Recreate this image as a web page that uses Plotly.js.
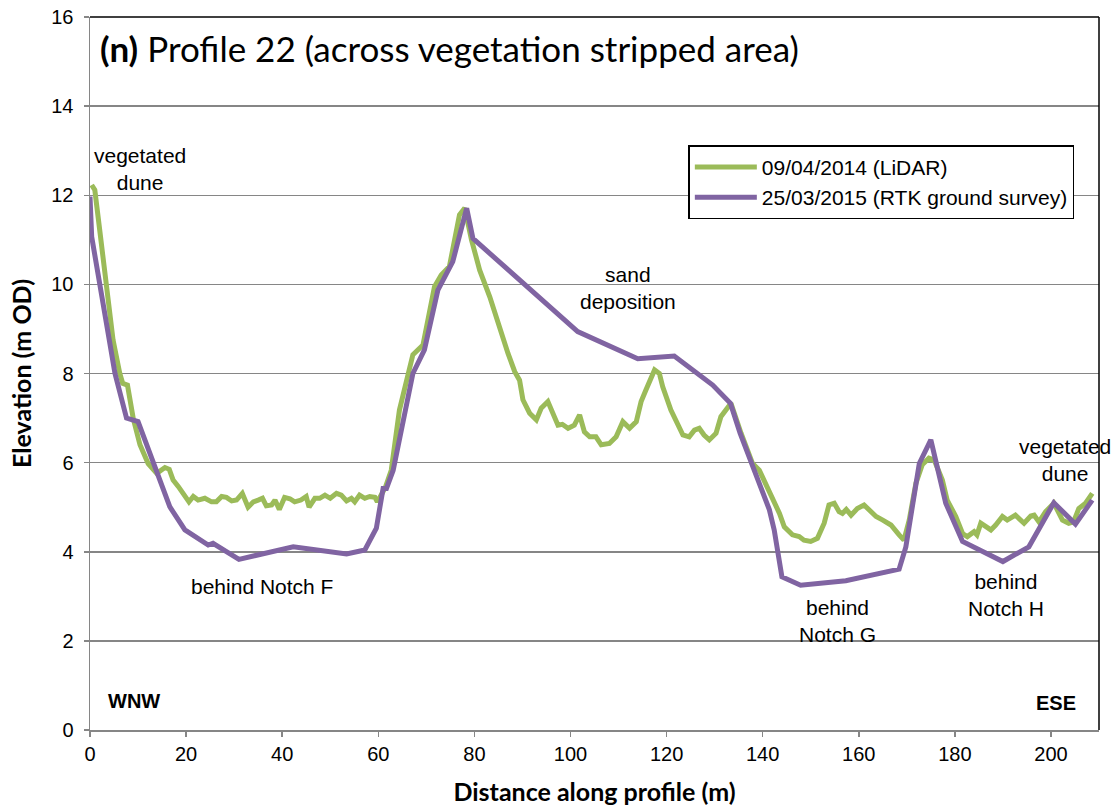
<!DOCTYPE html>
<html><head><meta charset="utf-8">
<script src="https://cdn.plot.ly/plotly-3.0.1.min.js"></script>
<style>body{margin:0;background:#fff}#chart{width:1117px;height:808px}</style>
</head><body><div id="chart"></div>
<script>
// LiDAR 09/04/2014
var lidarX = [0.35,1.0,2.1,3.5,4.8,6.2,6.8,7.8,9.0,10.4,12.1,13.9,15.6,16.5,17.3,18.4,19.4,20.6,21.5,22.5,23.9,25.3,26.3,27.4,28.4,29.5,30.5,31.7,32.9,34.0,35.0,35.9,36.7,37.8,38.5,39.4,40.5,41.6,42.6,43.9,45.0,45.6,46.8,47.8,48.9,50.0,51.3,52.3,53.4,54.4,55.1,56.1,57.2,58.2,59.3,59.8,61.5,62.7,64.4,65.5,67.2,69.3,71.7,73.1,74.8,76.9,78.0,79.4,81.1,83.2,84.9,85.3,87.0,88.4,89.4,90.1,91.5,92.9,93.9,95.3,96.3,97.4,98.3,99.5,100.8,101.9,102.9,104.0,105.3,106.4,108.1,109.5,110.9,112.3,113.7,114.7,115.7,117.5,118.5,119.2,120.9,122.3,123.4,124.7,125.8,126.8,127.8,128.9,130.3,131.3,132.7,133.4,135.5,137.9,139.3,140.7,142.4,143.5,144.5,146.2,147.6,148.6,150.0,151.4,152.8,153.8,154.9,155.9,156.6,157.4,158.4,159.7,161.1,162.2,163.6,165.0,166.7,168.4,169.4,170.5,171.9,173.2,174.6,175.7,177.4,178.4,180.2,181.6,182.6,184.0,184.6,185.4,186.4,187.5,188.5,189.9,190.9,192.6,194.4,195.8,196.5,197.5,198.9,200.6,202.4,203.7,204.7,205.8,207.2,208.6];
var lidarY = [12.23,12.12,11.15,9.95,8.75,8.0,7.78,7.74,6.99,6.40,5.98,5.76,5.89,5.85,5.61,5.46,5.31,5.12,5.24,5.16,5.20,5.12,5.12,5.24,5.22,5.14,5.16,5.31,5.00,5.12,5.16,5.20,5.03,5.05,5.16,4.95,5.22,5.19,5.12,5.16,5.24,5.00,5.20,5.20,5.27,5.20,5.31,5.27,5.14,5.20,5.12,5.27,5.20,5.24,5.22,5.12,5.45,5.83,7.18,7.63,8.42,8.64,9.95,10.21,10.40,11.56,11.71,11.0,10.32,9.72,9.13,9.0,8.45,8.04,7.85,7.41,7.11,6.96,7.22,7.37,7.11,6.84,6.86,6.77,6.84,7.07,6.69,6.58,6.58,6.40,6.43,6.58,6.92,6.77,6.92,7.37,7.63,8.08,8.0,7.70,7.18,6.88,6.62,6.58,6.73,6.77,6.62,6.51,6.66,7.03,7.26,7.33,6.66,5.98,5.83,5.50,5.16,4.86,4.56,4.38,4.34,4.26,4.23,4.30,4.64,5.05,5.09,4.90,4.86,4.95,4.82,4.97,5.05,4.94,4.79,4.71,4.60,4.38,4.26,4.71,5.54,5.95,6.10,6.06,5.61,5.16,4.79,4.41,4.34,4.45,4.38,4.64,4.56,4.49,4.60,4.79,4.71,4.82,4.64,4.80,4.82,4.67,4.90,5.09,4.71,4.64,4.67,4.97,5.09,5.31];
// RTK 25/03/2015
var rtkX = [0,0.35,5.2,7.6,10.0,11.8,16.6,19.75,24.6,25.6,31.0,42.3,53.4,57.2,59.6,61.0,61.7,63.1,67.2,69.6,72.4,75.5,78.4,79.7,101.5,114.0,121.6,129.6,133.3,135.3,141.4,142.4,144.0,147.9,157.3,168.4,169.8,172.6,175.0,178.1,181.6,190.0,195.4,200.6,205.1,208.6];
var rtkY = [11.97,11.07,8.0,7.0,6.92,6.4,5.01,4.49,4.15,4.19,3.83,4.11,3.95,4.04,4.53,5.42,5.42,5.83,8.0,8.53,9.87,10.51,11.71,11.03,8.94,8.33,8.39,7.74,7.33,6.66,4.94,4.49,3.44,3.25,3.35,3.61,4.11,5.98,6.51,5.09,4.23,3.78,4.11,5.10,4.62,5.16];
var seriesNames = ['09/04/2014 (LiDAR)', '25/03/2015 (RTK ground survey)'];
var xTicks = [0,20,40,60,80,100,120,140,160,180,200];
var yTicks = [0,2,4,6,8,10,12,14,16];

var tickFont = {family:'Liberation Sans, Arial, sans-serif', size:20, color:'#000'};
var annFont = {family:'Liberation Sans, Arial, sans-serif', size:21, color:'#000'};
var titleFont = {family:'Lato, Open Sans, sans-serif', size:25, color:'#000'};

var data = [
  {x:lidarX, y:lidarY, mode:'lines', name:seriesNames[0], line:{color:'#9BBB59', width:5}},
  {x:rtkX, y:rtkY, mode:'lines', name:seriesNames[1], line:{color:'#8064A2', width:5}}
];

function ann(x, y, text, extra){
  var a = {x:x, y:y, xref:'x', yref:'y', text:text, showarrow:false, font:annFont, align:'center'};
  for (var k in extra) a[k]=extra[k];
  return a;
}

var layout = {
  width:1117, height:808,
  margin:{l:90, r:18, t:17, b:78},
  paper_bgcolor:'#fff', plot_bgcolor:'#fff',
  showlegend:true,
  legend:{x:0.593, y:0.82, xanchor:'left', yanchor:'top', bgcolor:'#fff', bordercolor:'#000', borderwidth:1.5,
          font:{family:'Liberation Sans, Arial, sans-serif', size:21, color:'#000'}, itemwidth:62, tracegroupgap:0},
  xaxis:{range:[0,210], tickvals:xTicks, ticks:'outside', ticklen:5, tickcolor:'#868686', tickwidth:1.5,
         showline:true, linecolor:'#868686', linewidth:1.5, showgrid:false, zeroline:false,
         tickfont:tickFont, title:{text:'<b>Distance along profile (m)</b>', font:titleFont, standoff:20}},
  yaxis:{range:[0,16], tickvals:yTicks, ticks:'outside', ticklen:5, tickcolor:'#868686', tickwidth:1.5,
         showline:true, linecolor:'#868686', linewidth:1.5, showgrid:true, gridcolor:'#868686', gridwidth:1.5, zeroline:false,
         ticklabelstandoff:6,
         tickfont:tickFont, title:{text:'<b>Elevation (m OD)</b>', font:titleFont, standoff:12}},
  shapes:[
    {type:'line', xref:'paper', yref:'paper', x0:0, x1:1, y0:1, y1:1, line:{color:'#000', width:1.5}},
    {type:'line', xref:'paper', yref:'paper', x0:1, x1:1, y0:0, y1:1, line:{color:'#000', width:1.5}}
  ],
  annotations:[
    {xref:'paper', yref:'paper', x:0.008, y:0.957, xanchor:'left', yanchor:'middle', showarrow:false,
     text:'<b>(n)</b> Profile 22 (across vegetation stripped area)', font:{family:'Lato, Open Sans, sans-serif', size:35, color:'#000'}},
    ann(10.4, 12.6, 'vegetated<br>dune'),
    ann(111.9, 9.91, 'sand<br>deposition'),
    ann(35.8, 3.23, 'behind Notch F'),
    ann(155.5, 2.45, 'behind<br>Notch G'),
    ann(190.6, 3.03, 'behind<br>Notch H'),
    ann(203.0, 6.07, 'vegetated<br>dune'),
    ann(9.1, 0.65, '<b>WNW</b>', {font:{family:'Liberation Sans, Arial, sans-serif', size:20, color:'#000'}}),
    ann(201.0, 0.6, '<b>ESE</b>', {font:{family:'Liberation Sans, Arial, sans-serif', size:20, color:'#000'}})
  ]
};

Plotly.newPlot('chart', data, layout, {displayModeBar:false, staticPlot:true});
</script>
</body></html>
